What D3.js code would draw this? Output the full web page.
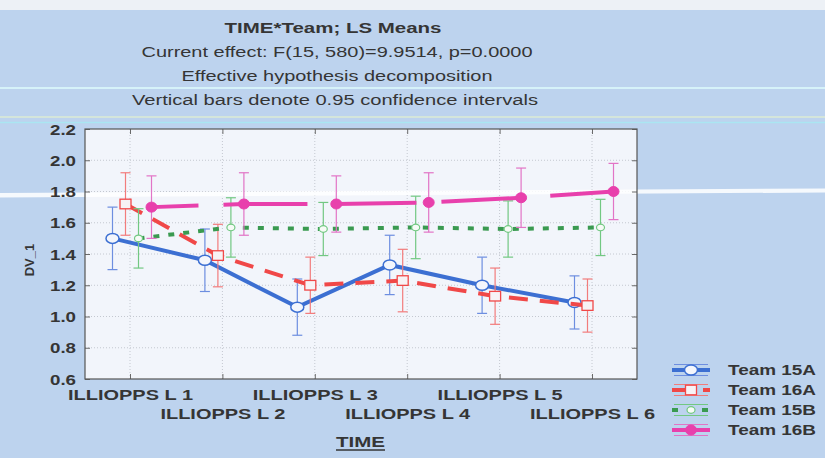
<!DOCTYPE html>
<html>
<head>
<meta charset="utf-8">
<script src="https://cdn.jsdelivr.net/npm/d3@7"></script>
<style>
  html, body { margin: 0; padding: 0; background: #bdd3ee; }
  svg { display: block; font-family: "Liberation Sans", Arial, sans-serif; }
</style>
</head>
<body>
<svg id="chart" width="825" height="458"></svg>
<script>
// ---- data ----
const categories = ["ILLIOPPS L 1", "ILLIOPPS L 2", "ILLIOPPS L 3", "ILLIOPPS L 4", "ILLIOPPS L 5", "ILLIOPPS L 6"];
const teams = ["Team 15A", "Team 16A", "Team 15B", "Team 16B"];

// LS means per time point
const team15A = [1.50, 1.36, 1.06, 1.33, 1.20, 1.09];
const team16A = [1.72, 1.39, 1.20, 1.23, 1.13, 1.07];
const team15B = [1.50, 1.57, 1.56, 1.57, 1.56, 1.57];
const team16B = [1.70, 1.72, 1.72, 1.73, 1.76, 1.80];

// half-widths of the 0.95 confidence intervals
const team15A_ci = [0.20, 0.20, 0.18, 0.19, 0.18, 0.17];
const team16A_ci = [0.20, 0.20, 0.18, 0.20, 0.18, 0.17];
const team15B_ci = [0.19, 0.19, 0.17, 0.20, 0.18, 0.18];
const team16B_ci = [0.20, 0.20, 0.18, 0.19, 0.19, 0.18];

const yTicks = [0.6, 0.8, 1.0, 1.2, 1.4, 1.6, 1.8, 2.0, 2.2];

const titleLines = [
  "TIME*Team; LS Means",
  "Current effect: F(15, 580)=9.9514, p=0.0000",
  "Effective hypothesis decomposition",
  "Vertical bars denote 0.95 confidence intervals"
];
const xTitle = "TIME";
const yTitle = "DV_1";

// ---- styling ----
const seriesStyle = {
  "Team 15A": { line: "#3c6fd2", err: "#6d8ee0", dash: null, width: 4, marker: "circle" },
  "Team 16A": { line: "#f04848", err: "#f27c7c", dash: "19,12", width: 4, marker: "square" },
  "Team 15B": { line: "#3a9a50", err: "#72c882", dash: "6,9", width: 4, marker: "small" },
  "Team 16B": { line: "#e840ac", err: "#e274c6", dash: "84,25", offset: 37, width: 4, marker: "filled" }
};

const series = [
  { name: "Team 15A", values: team15A, ci: team15A_ci },
  { name: "Team 16A", values: team16A, ci: team16A_ci },
  { name: "Team 15B", values: team15B, ci: team15B_ci },
  { name: "Team 16B", values: team16B, ci: team16B_ci }
];

const plot = { left: 85, right: 637, top: 129, bottom: 379 };
const textColor = "#353535";

const svg = d3.select("#chart");

// ---- backdrop ----
svg.append("rect").attr("width", 825).attr("height", 458).attr("fill", "#bdd3ee");
svg.append("rect").attr("width", 825).attr("height", 10).attr("fill", "#edf1f6");
// light streaks across the backdrop
const streaks = [
  { y: 88, color: "#d9f6fb", w: 2, op: 0.9 },
  { y: 117, color: "#e4f2cf", w: 1.5, op: 0.8 },
  { y: 122.5, color: "#a6ebf3", w: 1.5, op: 0.8 }
];
streaks.forEach(s => {
  svg.append("line").attr("x1", 0).attr("x2", 825).attr("y1", s.y).attr("y2", s.y)
    .attr("stroke", s.color).attr("stroke-width", s.w).attr("opacity", s.op);
});

// ---- titles ----
const titleSpec = [
  { y: 33, size: 14, weight: "bold", len: 217, cx: 333 },
  { y: 57, size: 14, weight: "normal", len: 391, cx: 337 },
  { y: 81, size: 14, weight: "normal", len: 311, cx: 337 },
  { y: 105, size: 14, weight: "normal", len: 406, cx: 335 }
];
titleLines.forEach((t, i) => {
  const s = titleSpec[i];
  svg.append("text").text(t)
    .attr("x", s.cx - s.len / 2).attr("y", s.y)
    .attr("font-size", s.size).attr("font-weight", s.weight)
    .attr("fill", textColor)
    .attr("textLength", s.len).attr("lengthAdjust", "spacingAndGlyphs");
});

// ---- scales ----
const x = d3.scalePoint().domain(categories).range([130, 592]);
const teamOffset = d3.scalePoint().domain(teams).range([-17.5, 21.5]);
const y = d3.scaleLinear().domain([0.6, 2.2]).range([plot.bottom, plot.top]);

// plot area
svg.append("rect")
  .attr("x", plot.left).attr("y", plot.top)
  .attr("width", plot.right - plot.left).attr("height", plot.bottom - plot.top)
  .attr("fill", "#f2f5fb");

// grid
const grid = svg.append("g").attr("stroke", "#c4c8d0").attr("stroke-width", 1).attr("stroke-dasharray", "1,2");
grid.selectAll("line.h").data(yTicks.slice(1, -1)).join("line")
  .attr("x1", plot.left).attr("x2", plot.right)
  .attr("y1", d => y(d)).attr("y2", d => y(d));
grid.selectAll("line.v").data(categories).join("line")
  .attr("x1", d => x(d)).attr("x2", d => x(d))
  .attr("y1", plot.top).attr("y2", plot.bottom);

// white streak crossing the chart
svg.append("path")
  .attr("d", "M0,193 L825,188.5 L825,192.5 L0,197.5 Z")
  .attr("fill", "#ffffff").attr("opacity", 0.85);

// ---- axes ----
const yAxis = svg.append("g").attr("transform", `translate(${plot.left},0)`)
  .call(d3.axisLeft(y).tickValues(yTicks).tickFormat(d3.format(".1f")).tickSize(-5).tickPadding(9));
const yAxisR = svg.append("g").attr("transform", `translate(${plot.right},0)`)
  .call(d3.axisRight(y).tickValues(yTicks).tickFormat("").tickSize(-5));
const xAxis = svg.append("g").attr("transform", `translate(0,${plot.bottom})`)
  .call(d3.axisBottom(x).tickSize(-5).tickPadding(0));
const xAxisT = svg.append("g").attr("transform", `translate(0,${plot.top})`)
  .call(d3.axisTop(x).tickFormat("").tickSize(-5));

[yAxis, yAxisR, xAxis, xAxisT].forEach(g => {
  g.select(".domain").remove();
  g.selectAll(".tick line").attr("stroke", "#6a6a6a");
});

yAxis.selectAll(".tick text")
  .attr("font-size", 14).attr("font-weight", "bold").attr("fill", textColor)
  .attr("font-family", "Liberation Sans, Arial, sans-serif")
  .attr("dy", "0.36em")
  .attr("textLength", 26).attr("lengthAdjust", "spacingAndGlyphs");

xAxis.selectAll(".tick text")
  .attr("font-size", 14).attr("font-weight", "bold").attr("fill", textColor)
  .attr("font-family", "Liberation Sans, Arial, sans-serif")
  .attr("dy", 0)
  .attr("y", (d, i) => (i % 2 === 0 ? 21 : 40))
  .attr("textLength", 125).attr("lengthAdjust", "spacingAndGlyphs");

// frame
svg.append("rect")
  .attr("x", plot.left).attr("y", plot.top)
  .attr("width", plot.right - plot.left).attr("height", plot.bottom - plot.top)
  .attr("fill", "none").attr("stroke", "#555").attr("stroke-width", 1.2);

// axis titles
svg.append("text").text(yTitle)
  .attr("transform", "translate(34,260) rotate(-90)")
  .attr("text-anchor", "middle")
  .attr("font-size", 13).attr("font-weight", "bold").attr("fill", textColor);

svg.append("text").text(xTitle)
  .attr("x", 336).attr("y", 447)
  .attr("font-size", 14).attr("font-weight", "bold").attr("fill", textColor)
  .attr("textLength", 49).attr("lengthAdjust", "spacingAndGlyphs");
svg.append("line").attr("x1", 336).attr("x2", 385).attr("y1", 450).attr("y2", 450)
  .attr("stroke", textColor).attr("stroke-width", 1.3);

// ---- markers ----
function drawMarker(g, kind, st, cx, cy) {
  if (kind === "circle") {
    g.append("ellipse").attr("cx", cx).attr("cy", cy).attr("rx", 6.5).attr("ry", 5)
      .attr("fill", "#f4f6fc").attr("stroke", st.line).attr("stroke-width", 1.5);
  } else if (kind === "square") {
    g.append("rect").attr("x", cx - 5.5).attr("y", cy - 4.8).attr("width", 11).attr("height", 9.6)
      .attr("fill", "#f7f2f5").attr("stroke", st.line).attr("stroke-width", 1.3);
  } else if (kind === "small") {
    g.append("ellipse").attr("cx", cx).attr("cy", cy).attr("rx", 4).attr("ry", 3.3)
      .attr("fill", "#f6fbf6").attr("stroke", st.err).attr("stroke-width", 1.2);
  } else {
    g.append("ellipse").attr("cx", cx).attr("cy", cy).attr("rx", 5.5).attr("ry", 5)
      .attr("fill", st.line).attr("stroke", st.line).attr("stroke-width", 1);
  }
}

// ---- series ----
const cap = 5;
series.forEach(s => {
  const st = seriesStyle[s.name];
  const g = svg.append("g");
  const px = (d, i) => x(categories[i]) + teamOffset(s.name);

  // confidence interval bars
  const eb = g.append("g").attr("stroke", st.err).attr("stroke-width", 1.2);
  s.values.forEach((v, i) => {
    const cx = px(v, i);
    const y0 = y(v - s.ci[i]), y1 = y(v + s.ci[i]);
    eb.append("line").attr("x1", cx).attr("x2", cx).attr("y1", y0).attr("y2", y1);
    eb.append("line").attr("x1", cx - cap).attr("x2", cx + cap).attr("y1", y0).attr("y2", y0);
    eb.append("line").attr("x1", cx - cap).attr("x2", cx + cap).attr("y1", y1).attr("y2", y1);
  });

  // mean line
  const line = d3.line().x((d, i) => px(d, i)).y(d => y(d));
  g.append("path").datum(s.values).attr("d", line)
    .attr("fill", "none").attr("stroke", st.line).attr("stroke-width", st.width)
    .attr("stroke-dasharray", st.dash).attr("stroke-dashoffset", st.offset || 0);

  s.values.forEach((v, i) => drawMarker(g, st.marker, st, px(v, i), y(v)));
});

// ---- legend ----
const legendRowY = d3.scalePoint().domain(teams).range([370, 430]);
const lg = svg.append("g");
teams.forEach(t => {
  const st = seriesStyle[t];
  const cy = legendRowY(t);
  const x0 = 672, x1 = 710, mid = (x0 + x1) / 2;
  lg.append("line").attr("x1", x0 + 2).attr("x2", x1 - 2).attr("y1", cy - 5.5).attr("y2", cy - 5.5)
    .attr("stroke", st.err).attr("stroke-width", 1.1);
  lg.append("line").attr("x1", x0 + 2).attr("x2", x1 - 2).attr("y1", cy + 5.5).attr("y2", cy + 5.5)
    .attr("stroke", st.err).attr("stroke-width", 1.1);
  lg.append("line").attr("x1", x0).attr("x2", x1).attr("y1", cy).attr("y2", cy)
    .attr("stroke", st.line).attr("stroke-width", st.width)
    .attr("stroke-dasharray", st.dash ? (st.marker === "filled" ? null : st.dash) : null);
  drawMarker(lg, st.marker, st, mid, cy);
  lg.append("text").text(t)
    .attr("x", 728).attr("y", cy + 5)
    .attr("font-size", 14).attr("font-weight", "bold").attr("fill", textColor)
    .attr("textLength", 88).attr("lengthAdjust", "spacingAndGlyphs");
});
</script>
</body>
</html>
